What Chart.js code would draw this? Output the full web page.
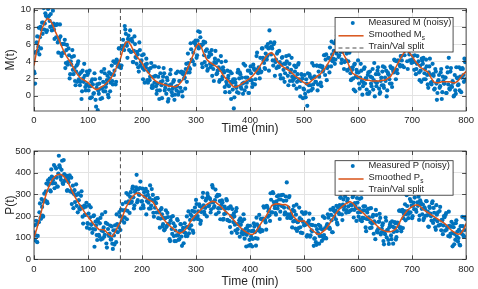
<!DOCTYPE html>
<html>
<head>
<meta charset="utf-8">
<script src="https://cdn.jsdelivr.net/npm/chart.js@4.4.1/dist/chart.umd.min.js"></script>
<style>
  body { margin: 0; background: #fff; width: 478px; height: 289px; overflow: hidden; position: relative; }
  canvas { position: absolute; left: 0; display: block; }
</style>
</head>
<body>
<canvas id="mChart" width="478" height="140" style="top:0"></canvas>
<canvas id="pChart" width="478" height="149" style="top:140px"></canvas>
<script>
// ---- data ----
const timeTicks = [0, 100, 200, 300, 400, 500, 600, 700, 800];
const mTicks = [0, 2, 4, 6, 8, 10];
const pTicks = [0, 100, 200, 300, 400, 500];
const splitTime = 160;

// measured samples: even minutes (0..798) and odd minutes (1..799); smoothed curve every 5 min
const evenTimes = Array.from({ length: 400 }, (_, i) => i * 2);
const oddTimes = Array.from({ length: 400 }, (_, i) => i * 2 + 1);
const smoothTimes = Array.from({ length: 161 }, (_, i) => i * 5);

const measuredM = [
  2.8,1.4,5.1,6.9,5.7,4.8,8.0,7.7,7.2,10.2, 8.4,9.3,7.6,10.1,9.3,8.0,10.4,8.1,8.4,6.6,
  8.2,8.3,6.2,6.4,8.3,4.9,6.0,5.0,6.0,3.2, 5.3,3.6,5.5,2.0,4.0,4.5,3.0,4.6,1.7,2.8,
  1.6,4.0,2.5,1.6,-0.4,2.9,1.6,2.3,0.6,2.8, 2.6,1.1,-0.3,1.6,1.9,0.2,2.6,-0.5,0.9,-1.7,
  0.2,2.0,0.8,-0.3,1.6,3.1,0.5,1.4,2.3,-0.2, 2.0,1.5,3.5,1.3,2.4,3.8,1.6,4.0,3.7,5.5,
  3.5,3.5,5.8,5.8,8.1,7.2,5.8,6.6,5.3,7.6, 5.1,6.3,3.9,6.9,4.5,3.7,4.8,2.8,5.3,3.9,
  4.7,1.9,3.0,3.6,4.3,1.8,2.8,1.8,3.2,0.9, 0.9,2.2,3.4,1.1,0.6,2.2,-0.4,2.6,1.2,1.7,
  3.2,0.6,1.3,2.1,-0.7,0.7,2.5,1.3,0.0,1.6, -0.5,1.0,0.6,2.8,0.4,1.7,2.7,0.5,2.5,2.0,
  0.8,3.7,2.7,3.8,2.7,6.1,4.2,4.0,6.2,6.1, 5.8,4.7,7.5,5.7,6.8,5.8,3.3,6.3,3.9,5.2,
  5.4,3.1,4.6,3.7,4.8,2.3,3.1,3.9,5.2,2.5, 2.9,3.3,1.8,4.6,1.9,3.3,2.7,0.4,1.6,2.9,
  2.3,0.4,1.6,2.6,0.7,-1.5,1.9,1.1,0.4,3.0, 2.0,2.5,0.8,1.4,3.7,0.6,2.1,1.5,2.9,0.3,
  1.8,2.6,1.0,3.6,3.0,1.9,4.6,2.7,3.3,2.0, 2.7,5.5,4.4,3.8,3.1,5.7,4.6,5.5,7.6,6.2,
  5.7,4.1,6.0,2.3,4.2,4.9,3.4,5.2,2.4,3.6, 4.5,3.0,1.6,3.7,4.0,2.3,4.7,1.7,3.0,2.2,
  1.9,3.5,2.1,0.8,2.5,3.8,1.0,1.7,2.4,-0.3, 0.7,0.2,1.9,-1.2,0.5,2.5,1.2,2.0,0.8,3.5,
  2.2,1.6,3.5,1.3,2.2,3.5,1.1,3.4,3.0,4.7, 4.2,1.8,3.4,4.4,5.6,3.4,4.8,4.3,6.1,4.2,
  4.9,6.5,4.5,7.6,5.1,4.2,5.2,3.1,5.6,4.1, 2.9,4.0,5.0,2.6,1.9,3.3,0.7,3.7,2.2,2.7,
  4.1,1.4,2.1,2.9,0.1,1.5,3.3,2.0,0.7,2.4, 0.2,2.8,1.4,2.1,0.7,3.8,1.6,1.1,2.9,2.5,
  0.2,1.7,1.2,3.4,0.9,2.1,2.9,0.6,2.5,1.9, 3.4,1.4,3.2,2.7,4.1,1.9,3.0,4.1,5.7,3.4,
  4.6,3.5,6.4,4.7,6.1,5.4,3.1,6.3,4.1,5.4, 4.2,4.6,3.0,5.8,3.1,4.6,4.0,1.8,2.9,4.3,
  3.7,1.9,3.1,4.2,2.4,0.9,3.4,2.4,1.3,3.7, 2.3,0.8,2.8,-0.5,1.7,2.4,1.1,3.1,0.4,1.7,
  1.4,2.1,0.3,2.7,4.4,0.7,3.2,1.0,1.5,0.0, 0.6,3.3,2.0,1.3,0.6,3.1,2.1,3.1,1.6,3.9
];

const measuredMOdd = [
  2.6,5.0,6.2,5.2,7.9,6.8,5.5,8.5,8.5,7.7, 9.6,7.4,9.1,10.2,8.7,9.5,7.6,9.9,7.7,8.2,
  6.8,8.3,5.0,6.7,6.9,4.6,6.0,5.0,6.5,3.8, 5.9,3.9,4.7,2.5,3.6,5.3,2.5,3.2,1.2,3.5,
  3.7,1.9,1.2,2.7,0.5,2.0,3.7,1.0,1.3,2.4, 0.6,2.9,1.1,-0.2,1.3,0.3,1.9,-1.3,1.3,0.6,
  1.4,-0.4,2.8,0.9,0.5,2.6,1.0,1.8,0.1,2.7, 0.5,2.5,1.7,4.0,2.9,1.3,4.2,3.4,5.5,3.3,
  3.2,5.4,6.5,5.3,7.7,6.1,4.4,7.0,6.5,5.1, 6.6,3.9,5.2,6.0,4.4,5.1,3.3,6.2,3.5,4.1,
  3.2,4.8,1.5,3.3,3.7,1.5,3.1,2.2,3.8,1.2, 3.4,1.5,2.3,0.2,1.4,3.3,0.6,1.6,-0.3,2.2,
  2.6,0.9,0.2,1.8,-0.4,1.2,3.0,0.4,0.8,1.8, 0.1,2.6,1.1,0.1,1.7,0.9,2.8,-0.1,2.7,2.1,
  3.1,1.6,4.9,3.3,3.1,5.4,4.0,5.0,3.6,6.4, 4.4,6.4,5.5,7.4,5.9,3.7,6.0,4.7,6.2,3.5,
  2.9,4.5,5.0,3.3,5.3,3.6,1.7,4.3,3.8,2.6, 4.1,1.6,3.0,3.9,2.2,2.9,1.0,4.0,1.3,2.0,
  1.1,2.8,-0.4,1.5,1.9,-0.2,1.5,0.9,2.7,0.3, 2.7,1.0,2.1,0.2,1.5,3.5,1.0,2.1,0.3,2.9,
  3.4,1.8,1.4,3.2,1.3,3.0,5.0,2.6,3.1,4.4, 2.8,5.5,4.1,3.2,4.9,4.2,6.0,2.9,5.6,4.8,
  5.5,3.5,6.2,3.9,3.2,5.1,3.3,3.9,2.0,4.4, 2.0,3.7,2.6,4.6,3.2,1.2,3.7,2.7,4.4,1.7,
  1.2,2.8,3.3,1.6,3.6,1.9,-0.1,2.5,2.0,0.8, 2.4,-0.2,1.4,2.6,1.2,2.2,0.6,3.8,1.3,2.2,
  1.6,3.5,0.6,2.8,3.4,1.5,3.3,2.8,4.7,2.4, 4.8,3.2,4.4,2.7,4.2,6.3,4.0,5.2,3.7,6.4,
  7.0,5.4,4.7,6.1,3.8,5.1,6.7,3.9,4.0,4.9, 3.0,5.1,3.2,1.8,3.0,2.0,3.6,0.5,3.0,2.1,
  2.7,0.8,3.7,1.7,1.1,3.1,1.4,2.0,0.2,2.7, 0.4,2.2,1.1,3.1,1.8,-0.1,2.5,1.5,3.3,0.8,
  0.4,2.1,2.8,1.2,3.3,1.7,-0.1,2.7,2.4,1.4, 3.2,1.0,2.9,4.2,2.9,4.0,2.6,5.9,3.6,4.6,
  4.1,6.1,3.3,5.5,6.0,4.0,5.6,4.8,6.4,3.8, 5.9,3.9,4.7,2.5,3.7,5.4,2.7,3.5,1.6,4.1,
  4.4,2.6,1.9,3.4,1.3,2.7,4.3,1.5,1.6,2.5, 0.7,3.1,1.4,0.3,1.8,0.9,2.7,-0.4,2.2,1.4,
  2.1,0.3,3.3,1.3,0.8,2.8,1.1,1.7,-0.1,2.4, 0.2,2.1,1.2,3.3,2.2,0.4,3.2,2.4,4.3,1.9
];

const smoothM = [
  3.5,5.2,6.6,7.8,8.6,9.0,8.8,8.2,7.4,6.7, 5.9,5.2,4.6,4.1,3.6,3.0,2.5,2.1,1.9,1.7,
  1.5,1.2,0.9,0.7,0.8,1.0,1.2,1.5,1.8,2.3, 2.9,3.6,4.3,5.4,6.2,6.3,5.8,5.1,4.6,4.2,
  3.8,3.2,2.8,2.4,2.0,1.7,1.5,1.4,1.3,1.2, 1.1,1.1,1.0,1.1,1.4,1.8,2.4,3.2,4.0,4.8,
  5.7,6.1,5.6,4.8,4.2,3.9,3.7,3.5,3.3,2.9, 2.4,2.0,1.7,1.3,1.0,1.0,1.2,1.4,1.6,1.8,
  2.0,2.3,2.7,3.1,3.6,4.1,4.6,4.9,5.0,4.7, 4.0,3.7,3.4,3.2,3.0,2.8,2.5,2.2,2.0,1.7,
  1.5,1.3,1.5,1.8,2.0,2.3,2.5,2.9,3.3,3.8, 4.4,5.0,5.6,5.8,5.2,4.6,4.0,3.2,2.6,2.4,
  2.2,2.0,1.9,1.8,1.8,1.7,1.7,1.7,1.7,1.8, 1.8,2.0,2.2,2.7,3.3,3.9,4.5,5.0,5.2,5.0,
  4.6,4.1,3.7,3.3,3.1,2.9,2.7,2.1,1.6,1.5, 1.5,1.6,1.6,1.6,1.6,1.5,1.5,1.7,2.1,2.5,
  2.8
];

const measuredP = [
  125,88,178,79,173,217,191,278,202,266, 273,314,266,365,349,318,415,350,376,328,
  424,377,335,478,424,367,455,348,393,366, 387,320,356,388,315,255,340,302,264,346,
  298,304,234,243,314,197,238,205,243,146, 164,250,194,159,122,199,58,174,112,185,
  113,166,91,207,129,104,218,73,163,113, 119,91,152,48,110,157,79,163,155,218,
  135,197,255,194,193,263,185,299,259,288, 261,326,286,249,316,390,273,301,329,235,
  268,250,310,289,207,313,261,283,235,324, 297,197,238,259,282,190,224,188,236,152,
  190,138,226,154,195,165,84,195,117,166, 84,133,110,180,90,131,161,62,145,125,
  122,149,107,221,142,207,200,133,184,239, 274,187,221,254,164,218,286,249,208,271,
  198,292,250,278,231,342,263,246,322,290, 298,217,269,236,272,183,209,233,278,182,
  235,176,245,123,193,212,160,222,121,162, 180,189,121,134,208,95,141,113,156,63,
  155,105,59,133,151,98,192,95,152,139, 186,135,188,238,181,137,241,222,203,305,
  216,310,264,236,206,291,249,277,220,296, 245,270,207,290,355,207,286,202,210,147,
  175,222,142,252,171,144,190,123,218,173, 157,211,161,112,168,211,111,134,158,62,
  97,79,139,120,72,153,108,137,95,191, 99,156,208,143,140,205,125,238,197,225,
  247,161,216,250,286,207,253,229,289,215, 267,244,311,225,250,287,193,260,236,283,
  216,234,182,283,191,245,226,147,186,232, 194,144,236,165,205,175,93,204,124,173,
  210,115,141,166,69,116,178,135,89,148, 169,93,151,126,172,91,130,167,224,143,
  129,228,190,223,180,296,223,210,278,267, 190,246,231,306,219,263,289,202,263,233,
  253,190,231,269,203,151,243,211,179,268, 237,184,136,206,217,157,242,134,180,156,
  194,204,136,148,220,105,150,121,163,69, 90,180,128,98,67,153,118,153,104,195
];

const measuredPOdd = [
  157,110,161,108,171,258,187,242,197,303, 270,350,259,343,372,313,382,365,435,351,
  419,337,396,434,381,413,352,458,362,380, 316,368,379,313,377,309,236,319,295,247,
  217,273,230,293,240,165,248,205,261,167, 211,141,240,163,140,203,138,157,89,173,
  106,191,133,95,147,113,168,54,140,108, 156,93,72,134,68,134,207,125,149,198,
  229,179,226,169,227,306,224,268,214,310, 267,336,235,311,332,263,323,297,359,267,
  326,237,291,325,269,297,234,341,248,273, 215,267,280,216,282,217,146,230,208,162,
  134,190,149,214,164,93,179,140,199,107, 153,84,186,112,93,163,105,133,74,166,
  107,198,150,120,182,157,224,122,219,196, 255,200,185,245,177,238,307,219,237,280,
  304,245,283,216,263,331,239,273,208,291, 236,296,185,251,262,187,243,213,272,180,
  239,149,200,232,172,198,133,236,139,162, 104,159,175,115,185,125,59,148,131,90,
  67,130,94,166,125,63,161,134,205,127, 187,131,245,181,170,247,196,230,177,275,
  217,305,250,213,267,235,295,186,276,246, 298,239,217,271,191,239,292,190,194,228,
  246,177,206,131,173,239,148,183,121,210, 158,217,105,169,179,104,159,129,187,95,
  155,67,121,159,107,141,85,198,112,144, 96,163,192,146,229,180,125,225,219,185,
  169,238,209,284,244,181,276,245,312,227, 279,218,325,252,230,294,228,246,177,262,
  197,279,218,176,226,190,245,130,216,185, 234,171,146,197,118,170,228,130,139,174,
  191,125,157,84,127,193,101,135,71,159, 110,175,72,146,167,102,170,153,226,148,
  221,144,209,254,208,246,190,304,217,248, 199,262,285,230,305,247,182,272,254,208,
  181,240,201,268,220,150,237,199,259,168, 215,148,250,176,156,223,160,182,116,200,
  132,213,151,107,154,117,173,60,148,117, 167,105,82,137,64,126,196,111,135,187
];

const smoothP = [
  100,140,185,235,280,320,350,372,385,392, 392,383,366,345,318,293,270,251,232,212,
  196,180,164,150,138,137,136,124,112,105, 125,150,174,205,238,262,282,296,306,304,
  296,287,278,271,265,245,225,205,186,170, 158,147,137,126,120,125,136,152,175,192,
  207,219,232,244,254,262,268,266,256,246, 232,220,210,196,180,166,152,140,130,122,
  116,115,125,145,165,185,200,222,248,254, 256,255,252,253,248,225,200,185,176,176,
  178,165,148,135,125,116,118,128,138,155, 176,196,215,230,242,252,260,266,260,245,
  230,222,213,200,190,181,168,155,143,135, 130,127,127,131,140,160,185,205,222,234,
  243,250,252,245,232,222,215,206,198,190, 182,174,166,155,140,130,122,116,118,135,
  165
];

// ---- styling ----
const FONT = "'Liberation Sans', Arial, Helvetica, sans-serif";
const INK = '#262626';
const BLUE = '#0072BD';
const ORANGE = '#D95319';
const GRID = '#e3e3e3';

const toPts = (xs, ys) => ys.map((y, i) => ({ x: xs[i], y }));

// box around axes, inward ticks on all four sides (MATLAB look)
const framePlugin = {
  id: 'frame',
  afterDatasetsDraw(chart) {
    const { ctx, chartArea: a, scales } = chart;
    const tl = 4;
    ctx.save();
    ctx.strokeStyle = INK;
    ctx.lineWidth = 0.8;
    ctx.beginPath();
    scales.x.ticks.forEach(t => {
      const x = Math.round(scales.x.getPixelForValue(t.value)) + 0.5;
      ctx.moveTo(x, a.bottom); ctx.lineTo(x, a.bottom - tl);
      ctx.moveTo(x, a.top); ctx.lineTo(x, a.top + tl);
    });
    scales.y.ticks.forEach(t => {
      const y = Math.round(scales.y.getPixelForValue(t.value)) + 0.5;
      ctx.moveTo(a.left, y); ctx.lineTo(a.left + tl, y);
      ctx.moveTo(a.right, y); ctx.lineTo(a.right - tl, y);
    });
    ctx.stroke();
    ctx.strokeRect(a.left, a.top, a.right - a.left, a.bottom - a.top);
    ctx.restore();
  },
  afterDraw(chart) {
    // legend box inside the axes (upper right), built from the datasets
    const { ctx, chartArea: a } = chart;
    const w = 118, h = 34.5;
    const x0 = a.right - 13 - w, y0 = a.top + chart.options.plugins.frame.legendTop;
    ctx.save();
    ctx.fillStyle = '#fff';
    ctx.fillRect(x0, y0, w, h);
    ctx.strokeStyle = INK;
    ctx.lineWidth = 0.8;
    ctx.strokeRect(x0, y0, w, h);
    chart.data.datasets.forEach((ds, i) => {
      const cy = y0 + 4.6 + i * 12.2;
      if (ds.type === 'scatter') {
        ctx.fillStyle = ds.backgroundColor;
        ctx.beginPath(); ctx.arc(x0 + 17.7, cy + 0.8, 2, 0, Math.PI * 2); ctx.fill();
      } else {
        ctx.strokeStyle = ds.borderColor;
        ctx.lineWidth = ds.borderWidth;
        ctx.setLineDash(ds.borderDash || []);
        ctx.beginPath(); ctx.moveTo(x0 + 3.4, cy + 1.5); ctx.lineTo(x0 + 28.5, cy + 1.5); ctx.stroke();
        ctx.setLineDash([]);
      }
      const [main, sub] = ds.label.split('_');
      ctx.fillStyle = INK;
      ctx.font = `9.4px ${FONT}`;
      ctx.textBaseline = 'middle';
      ctx.textAlign = 'left';
      ctx.fillText(main, x0 + 33.4, cy);
      if (sub) {
        const mw = ctx.measureText(main).width;
        ctx.font = `6.5px ${FONT}`;
        ctx.fillText(sub, x0 + 33.6 + mw, cy + 3.5);
      }
    });
    ctx.restore();
  }
};

function makeChart(id, opt) {
  const measuredPts = toPts(evenTimes, opt.measured).concat(toPts(oddTimes, opt.measuredOdd));
  return new Chart(document.getElementById(id), {
    type: 'scatter',
    data: {
      datasets: [
        { type: 'scatter', label: opt.measLabel, data: measuredPts,
          backgroundColor: BLUE, pointRadius: 2.1, borderWidth: 0, order: 3 },
        { type: 'line', label: opt.smoothLabel, data: toPts(smoothTimes, opt.smooth),
          borderColor: ORANGE, borderWidth: 1.5, pointRadius: 0, tension: 0, fill: false, order: 2 },
        { type: 'line', label: 'Train/Val split',
          data: [{ x: splitTime, y: opt.yMin }, { x: splitTime, y: opt.yMax }],
          borderColor: '#4d4d4d', borderWidth: 1, borderDash: [4, 3], pointRadius: 0, order: 1 }
      ]
    },
    options: {
      responsive: false,
      animation: false,
      events: [],
      layout: { padding: { top: opt.padTop, right: 9, left: 0, bottom: 0 } },
      plugins: {
        legend: { display: false },
        tooltip: { enabled: false },
        frame: { legendTop: opt.legendTop }
      },
      scales: {
        x: {
          type: 'linear', min: 0, max: 800,
          afterBuildTicks: s => { s.ticks = timeTicks.map(v => ({ value: v })); },
          afterFit: s => { s.height = opt.xAxisH; },
          grid: { color: GRID, lineWidth: 1, drawTicks: false },
          border: { display: false },
          ticks: { padding: 4, maxRotation: 0, color: INK, font: { family: FONT, size: 9.5 } },
          title: { display: true, text: 'Time (min)', color: INK,
                   font: { family: FONT, size: 12 }, padding: { top: 0, bottom: opt.titlePadB } }
        },
        y: {
          min: opt.yMin, max: opt.yMax,
          afterBuildTicks: s => { s.ticks = opt.yTicks.map(v => ({ value: v })); },
          afterFit: s => { s.width = 34; },
          grid: { color: GRID, lineWidth: 1, drawTicks: false },
          border: { display: false },
          ticks: { padding: 3, color: INK, font: { family: FONT, size: 9.5 } },
          title: { display: true, text: opt.yTitle, color: INK,
                   font: { family: FONT, size: 12 }, padding: { top: 3.5, bottom: 0 } }
        }
      }
    },
    plugins: [framePlugin]
  });
}

makeChart('mChart', {
  measured: measuredM, measuredOdd: measuredMOdd, smooth: smoothM,
  measLabel: 'Measured M (noisy)', smoothLabel: 'Smoothed M_s',
  yMin: -1.8, yMax: 10.13, yTicks: mTicks, yTitle: 'M(t)',
  padTop: 3.5, xAxisH: 29, titlePadB: 4, legendTop: 8.8
});

makeChart('pChart', {
  measured: measuredP, measuredOdd: measuredPOdd, smooth: smoothP,
  measLabel: 'Measured P (noisy)', smoothLabel: 'Smoothed P_s',
  yMin: 0, yMax: 500, yTicks: pTicks, yTitle: 'P(t)',
  padTop: 11, xAxisH: 29.7, titlePadB: 0, legendTop: 9.7
});
</script>
</body>
</html>
